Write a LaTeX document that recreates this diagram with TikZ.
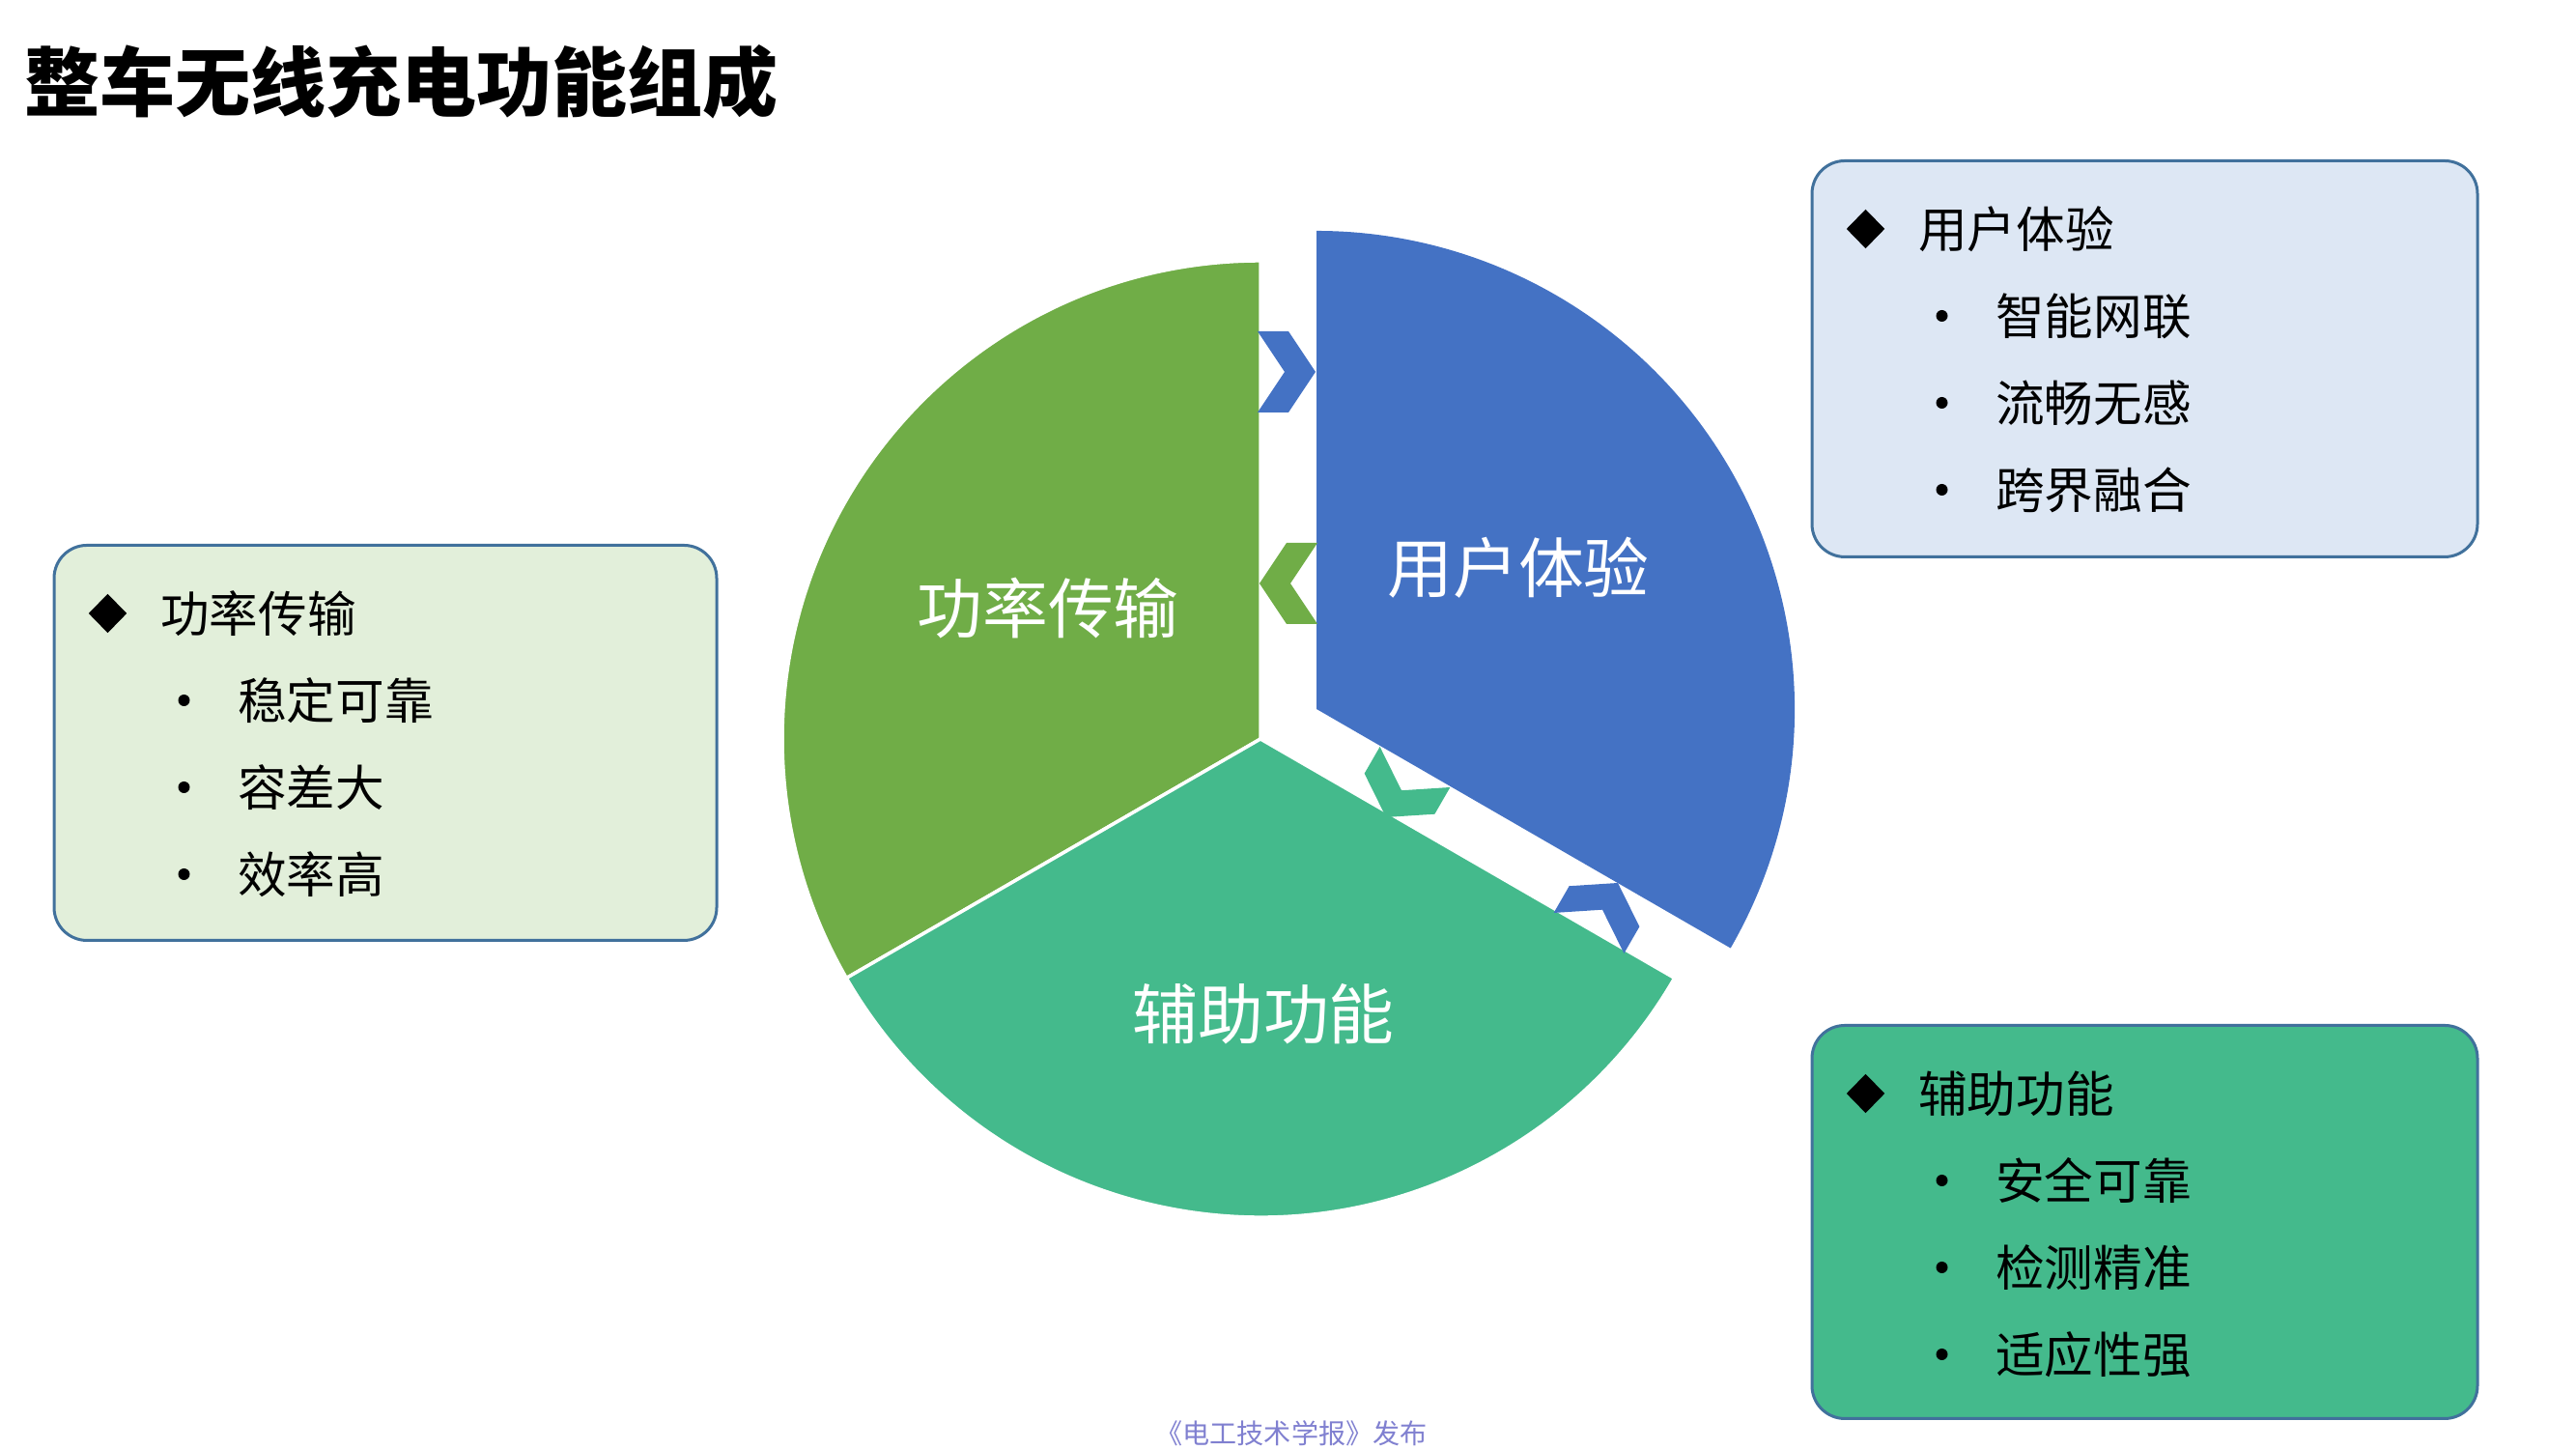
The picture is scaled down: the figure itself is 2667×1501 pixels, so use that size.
\documentclass[tikz,border=0pt]{standalone}
\usepackage{fontspec}
\setmainfont{Noto Sans CJK SC}
\usetikzlibrary{shapes.geometric}
\definecolor{cgreen}{HTML}{70AD47}
\definecolor{cblue}{HTML}{4472C4}
\definecolor{cteal}{RGB}{68,186,140}
\definecolor{lblue}{HTML}{DDE7F4}
\definecolor{lgreen}{HTML}{E2EFDA}
\definecolor{bord}{HTML}{41719C}
\definecolor{foot}{RGB}{128,128,208}
\tikzset{
  chevron/.pic={\fill[pic actions] (-30,42) -- (2,42) -- (30,0) -- (2,-42) -- (-30,-42) -- (-2,0) -- cycle;},
  infobox/.style={draw=bord, line width=0.3mm, rounded corners=3.4mm, anchor=north west, inner sep=0pt},
  pielabel/.style={text=white, font=\fontsize{19.3pt}{23pt}\selectfont, inner sep=0pt},
  headtext/.style={anchor=west, inner sep=0pt, font=\fontsize{14.4pt}{17pt}\selectfont},
  subtext/.style={anchor=west, inner sep=0pt, font=\fontsize{14.4pt}{17pt}\selectfont},
  diamondmark/.style={diamond, fill=black, inner sep=0pt, minimum width=4.0mm, minimum height=4.1mm},
  dotmark/.style={circle, fill=black, inner sep=0pt, minimum size=1.2mm}
}
\begin{document}
\begin{tikzpicture}[x=0.1mm, y=0.1mm]
\useasboundingbox (0,0) rectangle (2667,1501);
% title
\node[anchor=west, inner sep=0pt, font=\bfseries\fontsize{22.2pt}{26pt}\selectfont] (title) at (25,1416) {整车无线充电功能组成};
% pie
\fill[cgreen, draw=white, line width=0.35mm] (1305,736) -- ++(90:495) arc[start angle=90, end angle=210, radius=495] -- cycle;
\fill[cteal, draw=white, line width=0.35mm] (1305,736) -- ++(210:495) arc[start angle=210, end angle=330, radius=495] -- cycle;
\fill[cblue] (1363,767) -- ++(-30:495) arc[start angle=-30, end angle=90, radius=495] -- cycle;
% chevrons
\pic[fill=cblue] at (1332,1116) {chevron};
\pic[fill=cgreen, rotate=180] at (1334,897) {chevron};
\pic[fill=cteal, rotate=240] at (1450,681) {chevron};
\pic[fill=cblue, rotate=60] at (1660,561) {chevron};
% pie labels
\node[pielabel] (lpower) at (1085,871) {功率传输};
\node[pielabel] (luser) at (1572,913) {用户体验};
\node[pielabel] (laux) at (1308,451) {辅助功能};
% box 1 : user experience
\node[infobox, fill=lblue, minimum width=68.9mm, minimum height=41mm] (box1) at (1874.5,1336) {};
\node[diamondmark] (d1) at ([shift={(57,-72)}]box1.north west) {};
\node[headtext] (h1) at ([shift={(111,-72)}]box1.north west) {用户体验};
\node[dotmark] (b11) at ([shift={(136,-162)}]box1.north west) {};
\node[subtext] (t11) at ([shift={(191,-162)}]box1.north west) {智能网联};
\node[dotmark] (b12) at ([shift={(136,-252)}]box1.north west) {};
\node[subtext] (t12) at ([shift={(191,-252)}]box1.north west) {流畅无感};
\node[dotmark] (b13) at ([shift={(136,-342)}]box1.north west) {};
\node[subtext] (t13) at ([shift={(191,-342)}]box1.north west) {跨界融合};
% box 2 : power transfer
\node[infobox, fill=lgreen, minimum width=68.6mm, minimum height=40.9mm] (box2) at (54.5,938) {};
\node[diamondmark] (d2) at ([shift={(57,-72)}]box2.north west) {};
\node[headtext] (h2) at ([shift={(111,-72)}]box2.north west) {功率传输};
\node[dotmark] (b21) at ([shift={(136,-162)}]box2.north west) {};
\node[subtext] (t21) at ([shift={(191,-162)}]box2.north west) {稳定可靠};
\node[dotmark] (b22) at ([shift={(136,-252)}]box2.north west) {};
\node[subtext] (t22) at ([shift={(191,-252)}]box2.north west) {容差大};
\node[dotmark] (b23) at ([shift={(136,-342)}]box2.north west) {};
\node[subtext] (t23) at ([shift={(191,-342)}]box2.north west) {效率高};
% box 3 : auxiliary functions
\node[infobox, fill=cteal, minimum width=68.9mm, minimum height=40.7mm] (box3) at (1874.5,441) {};
\node[diamondmark] (d3) at ([shift={(57,-72)}]box3.north west) {};
\node[headtext] (h3) at ([shift={(111,-72)}]box3.north west) {辅助功能};
\node[dotmark] (b31) at ([shift={(136,-162)}]box3.north west) {};
\node[subtext] (t31) at ([shift={(191,-162)}]box3.north west) {安全可靠};
\node[dotmark] (b32) at ([shift={(136,-252)}]box3.north west) {};
\node[subtext] (t32) at ([shift={(191,-252)}]box3.north west) {检测精准};
\node[dotmark] (b33) at ([shift={(136,-342)}]box3.north west) {};
\node[subtext] (t33) at ([shift={(191,-342)}]box3.north west) {适应性强};
% footer
\node[text=foot, inner sep=0pt, font=\fontsize{8pt}{9.5pt}\selectfont] (footer) at (1337,17) {《电工技术学报》发布};
\end{tikzpicture}
\end{document}
